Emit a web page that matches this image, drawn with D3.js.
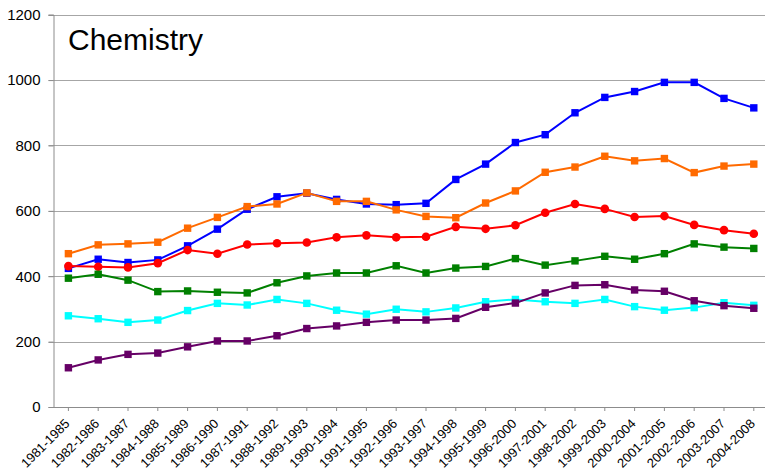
<!DOCTYPE html>
<html>
<head>
<meta charset="utf-8">
<script src="https://cdn.jsdelivr.net/npm/d3@7"></script>
<style>
  body { margin: 0; background: #fff; }
  svg { display: block; font-family: "Liberation Sans", Arial, sans-serif; }
</style>
</head>
<body>
<div id="chart"></div>
<script>
// five-year windows on the x axis
var periods = ["1981-1985", "1982-1986", "1983-1987", "1984-1988", "1985-1989", "1986-1990",
  "1987-1991", "1988-1992", "1989-1993", "1990-1994", "1991-1995", "1992-1996",
  "1993-1997", "1994-1998", "1995-1999", "1996-2000", "1997-2001", "1998-2002",
  "1999-2003", "2000-2004", "2001-2005", "2002-2006", "2003-2007", "2004-2008"];

var yTicks = [0, 200, 400, 600, 800, 1000, 1200];

var blueVals   = [424, 452, 442, 450, 493, 544, 605, 643, 654, 635, 621, 619, 623, 696, 743, 809, 833, 900, 947, 965, 993, 993, 944, 915];
var orangeVals = [469, 496, 499, 504, 547, 580, 613, 621, 655, 629, 629, 603, 583, 579, 624, 661, 718, 734, 767, 753, 760, 717, 737, 743];
var redVals    = [431, 429, 427, 440, 480, 469, 497, 501, 503, 519, 525, 519, 521, 551, 545, 556, 594, 621, 606, 581, 584, 557, 541, 530];
var greenVals  = [394, 406, 388, 353, 355, 351, 349, 380, 401, 410, 410, 432, 410, 425, 430, 454, 434, 447, 461, 452, 469, 499, 489, 485];
var cyanVals   = [279, 270, 259, 266, 295, 317, 312, 329, 317, 296, 284, 299, 291, 303, 322, 329, 322, 317, 329, 307, 296, 304, 319, 311];
var purpleVals = [120, 144, 161, 165, 184, 202, 202, 218, 240, 248, 259, 266, 266, 271, 305, 318, 349, 372, 374, 358, 354, 325, 310, 302];

var series = [
  { values: blueVals,   color: "#0000ff", marker: "square" },
  { values: orangeVals, color: "#ff6a00", marker: "square" },
  { values: redVals,    color: "#ff0000", marker: "circle" },
  { values: greenVals,  color: "#008000", marker: "square" },
  { values: cyanVals,   color: "#00ffff", marker: "square" },
  { values: purpleVals, color: "#660066", marker: "square" }
];

var width = 765, height = 473;
var plotLeft = 53.5, plotTop = 14.7, plotBottom = 407;
var step = 29.8;

var svg = d3.select("#chart").append("svg")
  .attr("width", width)
  .attr("height", height);

var x = d3.scaleBand()
  .domain(periods)
  .range([plotLeft, plotLeft + step * periods.length])
  .padding(0);

var y = d3.scaleLinear()
  .domain([0, 1200])
  .range([plotBottom, plotTop]);

function cx(i) { return x(periods[i]) + x.bandwidth() / 2; }

// grid lines
svg.append("g")
  .selectAll("line")
  .data(yTicks.filter(function(d) { return d > 0; }))
  .enter()
  .append("line")
  .attr("x1", plotLeft - 5)
  .attr("x2", width)
  .attr("y1", function(d) { return Math.round(y(d)) + 0.5; })
  .attr("y2", function(d) { return Math.round(y(d)) + 0.5; })
  .attr("stroke", "#a6a6a6")
  .attr("stroke-width", 1);

// y axis
var yAxis = svg.append("g")
  .attr("transform", "translate(" + plotLeft + ",0)")
  .call(d3.axisLeft(y).tickValues(yTicks).tickSize(5).tickPadding(8).tickFormat(d3.format("d")));
yAxis.select(".domain").attr("stroke", "#8c8c8c");
yAxis.selectAll(".tick line").attr("stroke", "#8c8c8c");
yAxis.selectAll("text")
  .attr("fill", "#000")
  .style("font-size", "15px")
  .style("font-family", "Liberation Sans, Arial, sans-serif");

// x axis
var xAxis = svg.append("g")
  .attr("transform", "translate(0," + plotBottom + ")")
  .call(d3.axisBottom(x).tickSize(4).tickSizeOuter(0));
xAxis.select(".domain").attr("stroke", "#8c8c8c");
xAxis.selectAll(".tick line").attr("stroke", "#8c8c8c");
xAxis.selectAll("text")
  .attr("x", 0)
  .attr("y", 0)
  .attr("dy", 0)
  .attr("fill", "#000")
  .attr("transform", "translate(2,17.5) rotate(-45)")
  .style("text-anchor", "end")
  .style("font-size", "13px")
  .style("font-family", "Liberation Sans, Arial, sans-serif");

// lines and markers
var line = d3.line()
  .x(function(d, i) { return cx(i); })
  .y(function(d) { return y(d); });

series.forEach(function(s) {
  var g = svg.append("g");
  g.append("path")
    .datum(s.values)
    .attr("d", line)
    .attr("fill", "none")
    .attr("stroke", s.color)
    .attr("stroke-width", 2);

  if (s.marker == "circle") {
    g.selectAll("circle")
      .data(s.values)
      .enter()
      .append("circle")
      .attr("cx", function(d, i) { return cx(i); })
      .attr("cy", function(d) { return y(d); })
      .attr("r", 4.3)
      .attr("fill", s.color);
  } else {
    g.selectAll("rect")
      .data(s.values)
      .enter()
      .append("rect")
      .attr("x", function(d, i) { return cx(i) - 3.7; })
      .attr("y", function(d) { return y(d) - 3.7; })
      .attr("width", 7.4)
      .attr("height", 7.4)
      .attr("fill", s.color);
  }
});

// title
svg.append("text")
  .attr("x", 68)
  .attr("y", 50)
  .style("font-size", "30px")
  .attr("fill", "#000")
  .text("Chemistry");
</script>
</body>
</html>
